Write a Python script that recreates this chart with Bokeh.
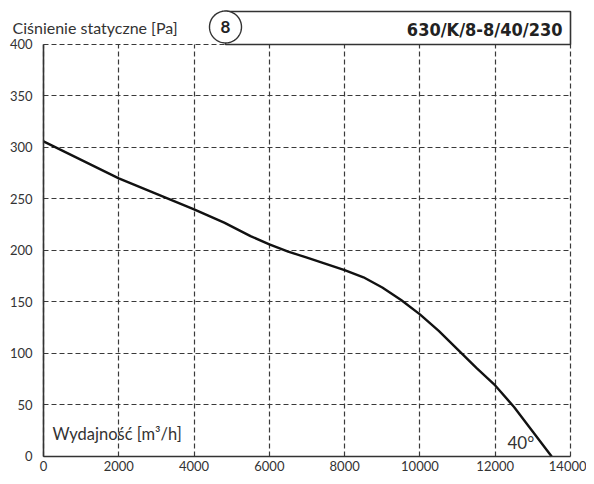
import numpy as np
from bokeh.plotting import figure
from bokeh.models import Label, PolyAnnotation, FixedTicker
from bokeh.embed import file_html
from bokeh.resources import INLINE

# ---- data ----
flow = [0, 1000, 2000, 3000, 4000, 4800, 5500, 6000, 6500, 7000, 7500, 8000,
        8500, 9000, 9500, 10000, 10500, 11000, 11500, 12000, 12500, 13000, 13500]
pressure = [306, 288, 270, 255, 240, 227, 214, 206, 199, 193, 187, 181,
            174, 164, 152, 138, 122, 104, 86, 69, 48, 24, 0]
x_ticks = [0, 2000, 4000, 6000, 8000, 10000, 12000, 14000]
y_ticks = [0, 50, 100, 150, 200, 250, 300, 350, 400]
y_title = "Ciśnienie statyczne [Pa]"
x_title = "Wydajność [m³/h]"
model_name = "630/K/8-8/40/230"
curve_no = "8"
angle_label = "40°"

FONT = "Lato"
GRID = "#3a3a3a"
AX = "#333333"

p = figure(width=586, height=476,
           x_range=(-1142.3, 14425), y_range=(-19.42, 442.7),
           output_backend="svg", toolbar_location=None,
           min_border=0)
p.outline_line_color = None
p.background_fill_color = "white"

# grid
p.xgrid[0].ticker = FixedTicker(ticks=x_ticks)
p.ygrid[0].ticker = FixedTicker(ticks=y_ticks)
p.xgrid[0].bounds = (0, 14000)
p.xgrid[0].cross_bounds = (0, 400)
p.ygrid[0].bounds = (0, 400)
p.ygrid[0].cross_bounds = (0, 14000)
for g in (p.xgrid[0], p.ygrid[0]):
    g.grid_line_color = GRID
    g.grid_line_dash = "5 3"
    g.grid_line_width = 1.2

# axes
p.xaxis[0].fixed_location = 0
p.xaxis[0].bounds = (0, 14000)
p.yaxis[0].fixed_location = 0
p.yaxis[0].bounds = (0, 400)
for ax, t in ((p.xaxis[0], x_ticks), (p.yaxis[0], y_ticks)):
    ax.ticker = FixedTicker(ticks=t)
    ax.axis_line_color = AX
    ax.axis_line_width = 1.6
    ax.major_tick_line_color = None
    ax.major_tick_in = 0
    ax.major_tick_out = 0
    ax.minor_tick_line_color = None
    ax.minor_tick_in = 0
    ax.minor_tick_out = 0
    ax.major_label_text_font = FONT
    ax.major_label_text_font_size = "13px"
    ax.major_label_text_color = AX
p.yaxis[0].major_label_standoff = 11
p.xaxis[0].major_label_standoff = 5

# curve
p.line(flow, pressure, line_color="#111111", line_width=2.4)

# header box (decoration)
box = PolyAnnotation(xs=[4835, 14000, 14000, 4835], ys=[432, 432, 400, 400],
                     fill_color="white", fill_alpha=1.0,
                     line_color=AX, line_alpha=1.0, line_width=1.6)
p.add_layout(box)
t = np.linspace(0, 2 * np.pi, 90)
circ = PolyAnnotation(xs=list(4835 + 425 * np.cos(t)), ys=list(417 + 15.5 * np.sin(t)),
                      fill_color="white", fill_alpha=1.0,
                      line_color=AX, line_alpha=1.0, line_width=1.4)
p.add_layout(circ)

p.add_layout(Label(x=4835, y=417, text=curve_no, text_align="center", text_baseline="middle",
                   text_font=FONT, text_font_style="bold", text_font_size="17px", text_color="#222222"))
p.add_layout(Label(x=13787, y=414.6, text=model_name, text_align="right", text_baseline="middle",
                   text_font="DejaVu Sans Condensed", text_font_style="bold", text_font_size="18px",
                   text_color="#222222"))
p.add_layout(Label(x=-823.5, y=416.5, text=y_title, text_align="left", text_baseline="middle",
                   text_font=FONT, text_font_size="16px", text_color=AX))
p.add_layout(Label(x=239, y=21.4, text=x_title, text_align="left", text_baseline="middle",
                   text_font=FONT, text_font_size="16.5px", text_color=AX))
p.add_layout(Label(x=12326, y=13.6, text=angle_label, text_align="left", text_baseline="middle",
                   text_font=FONT, text_font_size="17px", text_color=AX))

open("out.html", "w").write(file_html(p, INLINE))
